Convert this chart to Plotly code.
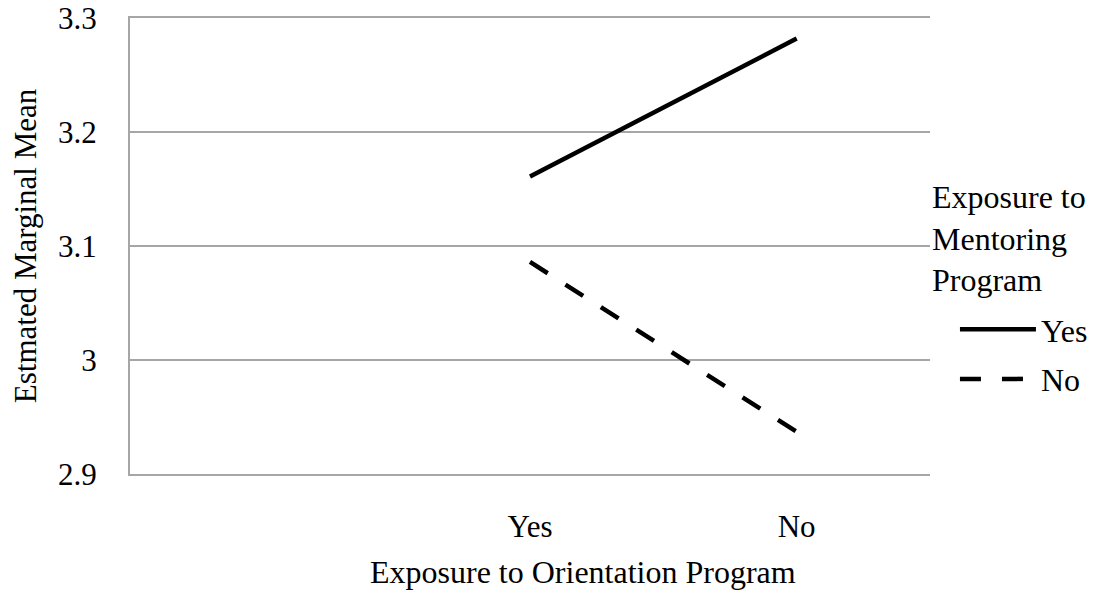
import plotly.graph_objects as go

categories = ["", "Yes", "No"]
series_names = ["Yes", "No"]
yes_values = [None, 3.161, 3.282]
no_values = [None, 3.086, 2.937]
y_ticks = [2.9, 3.0, 3.1, 3.2, 3.3]
y_ticktext = ["2.9", "3", "3.1", "3.2", "3.3"]

FONT = "Liberation Serif"
FS = 31
GRID = "#a6a6a6"
x_idx = list(range(len(categories)))

fig = go.Figure()
fig.add_trace(go.Scatter(x=x_idx, y=yes_values, mode="lines", name=series_names[0],
                         legendgroup="a",
                         line=dict(color="black", width=4.5)))
fig.add_trace(go.Scatter(x=x_idx, y=no_values, mode="lines", name=series_names[1],
                         legendgroup="b",
                         line=dict(color="black", width=4.5, dash="21px,21px")))

fig.update_layout(
    width=1094, height=599,
    margin=dict(l=130, r=164, t=18, b=125),
    plot_bgcolor="white", paper_bgcolor="white",
    font=dict(family=FONT, size=FS, color="black"),
    showlegend=True,
    legend=dict(xref="container", yref="container", x=0.8729, xanchor="left",
                y=0.4958, yanchor="top",
                font=dict(size=32), bgcolor="rgba(0,0,0,0)", tracegroupgap=5,
                itemwidth=76),
    xaxis=dict(range=[-0.5, 2.5], tickvals=x_idx, ticktext=categories,
               showgrid=False, zeroline=False, showline=True, mirror=True,
               linecolor=GRID, linewidth=2, ticks="",
               ticklabelstandoff=24, tickfont=dict(size=FS), automargin=False),
    yaxis=dict(range=[2.9, 3.3], tickvals=y_ticks, ticktext=y_ticktext,
               showgrid=True, gridcolor=GRID, gridwidth=2,
               zeroline=False, showline=True, linecolor=GRID, linewidth=2,
               ticks="", ticklabelstandoff=25, tickfont=dict(size=FS), automargin=False),
    annotations=[
        dict(text="Exposure to Orientation Program", xref="paper", yref="paper",
             x=0.566, y=-0.216, xanchor="center", yanchor="middle",
             showarrow=False, font=dict(size=32)),
        dict(text="Estmated Marginal Mean", xref="paper", yref="paper",
             x=-0.131, y=0.5, xanchor="center", yanchor="middle", textangle=-90,
             showarrow=False, font=dict(size=FS)),
        dict(text="Exposure to<br>Mentoring<br>Program", xref="paper", yref="paper",
             x=1.0, y=0.651, xanchor="left", yanchor="top", align="left",
             showarrow=False, font=dict(size=32)),
    ],
)

fig.write_html("out.html", config={"displayModeBar": False},
               post_script="document.body.style.margin='0';")
